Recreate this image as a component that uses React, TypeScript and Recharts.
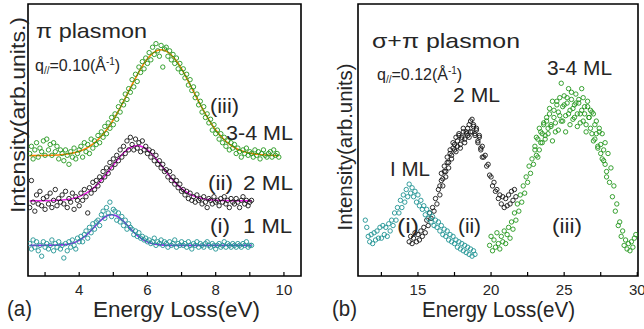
import React from 'react';
import { ComposedChart, Scatter, Line, XAxis, YAxis, ReferenceArea } from 'recharts';

// intensity is in arbitrary units, shared by both panels
const Y_MAX = 151;
const Y_TICKS = [5, 15, 25, 35, 45, 55, 65, 75, 85, 95, 105, 115, 125, 135, 145];

const X_TICKS_A = [3, 4, 5, 6, 7, 8, 9, 10];
const X_LABELS_A = [4, 6, 8, 10];
const X_TICKS_B = [12.5, 15, 17.5, 20, 22.5, 25, 27.5, 30];
const X_LABELS_B = [15, 20, 25, 30];

// (a) pi plasmon, energy grid (eV)
const ENERGY_A = [
  2.55, 2.6, 2.65, 2.7, 2.75, 2.8, 2.85, 2.9, 2.95, 3.0,
  3.05, 3.1, 3.15, 3.2, 3.25, 3.3, 3.35, 3.4, 3.45, 3.5,
  3.55, 3.6, 3.65, 3.7, 3.75, 3.8, 3.85, 3.9, 3.95, 4.0,
  4.05, 4.1, 4.15, 4.2, 4.25, 4.3, 4.35, 4.4, 4.45, 4.5,
  4.55, 4.6, 4.65, 4.7, 4.75, 4.8, 4.85, 4.9, 4.95, 5.0,
  5.05, 5.1, 5.15, 5.2, 5.25, 5.3, 5.35, 5.4, 5.45, 5.5,
  5.55, 5.6, 5.65, 5.7, 5.75, 5.8, 5.85, 5.9, 5.95, 6.0,
  6.05, 6.1, 6.15, 6.2, 6.25, 6.3, 6.35, 6.4, 6.45, 6.5,
  6.55, 6.6, 6.65, 6.7, 6.75, 6.8, 6.85, 6.9, 6.95, 7.0,
  7.05, 7.1, 7.15, 7.2, 7.25, 7.3, 7.35, 7.4, 7.45, 7.5,
  7.55, 7.6, 7.65, 7.7, 7.75, 7.8, 7.85, 7.9, 7.95, 8.0,
  8.05, 8.1, 8.15, 8.2, 8.25, 8.3, 8.35, 8.4, 8.45, 8.5,
  8.55, 8.6, 8.65, 8.7, 8.75, 8.8, 8.85, 8.9, 8.95, 9.0,
  9.05, 9.1, 9.15, 9.2, 9.25, 9.3, 9.35, 9.4, 9.45, 9.5,
  9.55, 9.6, 9.65, 9.7, 9.75, 9.8, 9.85,
];

const A_1ML = [
  18, 15, 20, 16, 19, 14, 17, 11, 19, 16,
  18, 15, 17, 20, 14, 18, 16, 19, 15, 17,
  10, 18, 14, 19, 16, 20, 17, 15, 21, 19,
  22, 19, 23, 25, 21, 27, 24, 29, 26, 30,
  31, 28, 34, 36, 32, 38, 35, 41, 33, 37,
  36, 31, 35, 30, 33, 28, 31, 26, 29, 27,
  26, 23, 25, 22, 24, 21, 22, 20, 21, 19,
  20, 18, 19, 21, 17, 19, 18, 20, 17, 19,
  18, 16, 19, 17, 18, 20, 16, 18, 17, 19,
  17, 18, 16, 19, 17, 15, 18, 17, 19, 16,
  18, 17, 16, 18, 19, 17, 16, 18, 17, 15,
  17, 18, 16, 17, 19, 16, 18, 17, 16, 18,
  17, 16, 18, 17, 16, 18, 17, 19, 16, 17,
  17,
];

const A_2ML = [
  38, 53, 41, 36, 45, 40, 47, 39, 43, 37,
  44, 40, 46, 38, 42, 48, 39, 43, 41, 45,
  40, 47, 38, 43, 41, 46, 37, 44, 42, 39,
  46, 42, 48, 44, 35, 49, 46, 52, 48, 53,
  50, 55, 53, 58, 55, 60, 57, 63, 60, 65,
  62, 67, 64, 70, 66, 72, 68, 75, 70, 77,
  73, 70, 76, 71, 74, 69, 75, 70, 72, 68,
  70, 66, 69, 64, 67, 62, 64, 60, 62, 58,
  59, 55, 58, 53, 55, 51, 53, 49, 51, 47,
  48, 45, 47, 43, 46, 42, 44, 41, 45, 42,
  43, 40, 44, 41, 38, 43, 42, 40, 44, 41,
  42, 39, 43, 41, 44, 40, 42, 38, 43, 41,
  40, 43, 41, 38, 42, 44, 40, 42, 39, 41,
  42,
];

const A_34ML = [
  68, 72, 65, 70, 74, 66, 71, 69, 75, 67,
  76, 70, 73, 67, 74, 69, 72, 65, 70, 68,
  64, 70, 67, 62, 69, 66, 71, 65, 68, 70,
  72, 66, 74, 69, 73, 68, 76, 71, 75, 73,
  78, 74, 80, 77, 83, 79, 85, 82, 88, 84,
  90, 87, 94, 91, 97, 95, 101, 98, 104, 102,
  109, 105, 112, 108, 116, 113, 119, 115, 121, 118,
  124, 120, 127, 123, 129, 125, 122, 128, 116, 126,
  127, 122, 125, 120, 123, 118, 121, 115, 118, 113,
  115, 110, 112, 106, 109, 103, 105, 99, 101, 95,
  97, 91, 94, 88, 90, 85, 87, 81, 84, 79,
  81, 76, 79, 74, 77, 72, 75, 70, 74, 71,
  73, 68, 71, 69, 66, 70, 68, 71, 67, 69,
  68, 66, 70, 67, 69, 65, 68, 70, 67, 66,
  68, 69, 66, 70, 67, 68, 66,
];

// fitted curves for (a)
const FIT_1ML_E = [2.55, 3.5, 3.8, 4.0, 4.2, 4.4, 4.6, 4.8, 4.95, 5.1, 5.3, 5.5, 5.7, 5.9, 6.1, 6.4, 6.8, 9.05];
const FIT_1ML_V = [17, 17.3, 18.2, 19.8, 22.5, 26.3, 30.3, 33.3, 34, 33.3, 30.3, 26.3, 22.5, 19.8, 18.2, 17.3, 17, 17];
const FIT_2ML_E = [2.55, 3.3, 3.7, 3.9, 4.1, 4.3, 4.5, 4.7, 4.9, 5.1, 5.3, 5.5, 5.7, 5.9, 6.1, 6.3, 6.5, 6.7, 6.9, 7.1, 7.3, 7.7, 8.1, 9.05];
const FIT_2ML_V = [41.7, 41.9, 42.6, 43.4, 44.9, 47.1, 50.2, 54.3, 59.1, 64, 68.3, 71.3, 72.4, 71.3, 68.3, 64, 59.1, 54.3, 50.2, 47.1, 44.9, 42.6, 41.9, 41.7];
const FIT_34ML_E = [2.55, 3.2, 3.6, 3.8, 4.0, 4.2, 4.4, 4.6, 4.8, 5.0, 5.2, 5.4, 5.6, 5.8, 6.0, 6.2, 6.4, 6.6, 6.8, 7.0, 7.2, 7.4, 7.6, 7.8, 8.0, 8.2, 8.4, 8.6, 8.8, 9.0, 9.2, 9.6, 9.85];
const FIT_34ML_V = [66.8, 67, 67.6, 68.2, 69.2, 70.8, 73.2, 76.6, 81, 86.7, 93.3, 100.6, 108, 115, 120.6, 124.3, 125.6, 124.3, 120.6, 115, 108, 100.6, 93.3, 86.7, 81, 76.6, 73.2, 70.8, 69.2, 68.2, 67.6, 67, 66.8];

// (b) sigma+pi plasmon, energy grid (eV)
const ENERGY_B = [
  11.4, 11.5, 11.6, 11.7, 11.8, 11.9, 12.0, 12.1, 12.2, 12.3,
  12.4, 12.5, 12.6, 12.7, 12.8, 12.9, 13.0, 13.1, 13.2, 13.3,
  13.4, 13.5, 13.6, 13.7, 13.8, 13.9, 14.0, 14.1, 14.2, 14.3,
  14.4, 14.5, 14.6, 14.7, 14.8, 14.9, 15.0, 15.1, 15.2, 15.3,
  15.4, 15.5, 15.6, 15.7, 15.8, 15.9, 16.0, 16.1, 16.2, 16.3,
  16.4, 16.5, 16.6, 16.7, 16.8, 16.9, 17.0, 17.1, 17.2, 17.3,
  17.4, 17.5, 17.6, 17.7, 17.8, 17.9, 18.0, 18.1, 18.2, 18.3,
  18.4, 18.5, 18.6, 18.7, 18.8, 18.9, 19.0, 19.1, 19.2, 19.3,
  19.4, 19.5, 19.6, 19.7, 19.8, 19.9, 20.0, 20.1, 20.2, 20.3,
  20.4, 20.5, 20.6, 20.7, 20.8, 20.9, 21.0, 21.1, 21.2, 21.3,
  21.4, 21.5, 21.6, 21.7, 21.8, 21.9, 22.0, 22.1, 22.2, 22.3,
  22.4, 22.5, 22.6, 22.7, 22.8, 22.9, 23.0, 23.1, 23.2, 23.3,
  23.4, 23.5, 23.6, 23.7, 23.8, 23.9, 24.0, 24.1, 24.2, 24.3,
  24.4, 24.5, 24.6, 24.7, 24.8, 24.9, 25.0, 25.1, 25.2, 25.3,
  25.4, 25.5, 25.6, 25.7, 25.8, 25.9, 26.0, 26.1, 26.2, 26.3,
  26.4, 26.5, 26.6, 26.7, 26.8, 26.9, 27.0, 27.1, 27.2, 27.3,
  27.4, 27.5, 27.6, 27.7, 27.8, 27.9, 28.0, 28.1, 28.2, 28.3,
  28.4, 28.5, 28.6, 28.7, 28.8, 28.9, 29.0, 29.1, 29.2, 29.3,
  29.4, 29.5, 29.6, 29.7, 29.8, 29.9,
];

const B_1ML_START = 0; // 11.4 eV
const B_1ML = [
  31, 27, 22, 19, 23, 18, 24, 20, 25, 21,
  27, 21, 28, 23, 27, 22, 29, 25, 31, 28,
  35, 31, 38, 35, 42, 38, 45, 41, 48, 44,
  51, 46, 49, 44, 47, 41, 45, 39, 42, 37,
  39, 34, 37, 32, 35, 30, 33, 28, 31, 27,
  30, 25, 28, 23, 26, 22, 25, 20, 23, 19,
  22, 18, 20, 16, 19, 15, 18, 14, 17, 13,
  16, 12, 15, 11, 14, 12,
];

const B_2ML_START = 30; // 14.4 eV
const B_2ML = [
  19, 22, 18, 21, 24, 19, 23, 20, 25, 22,
  27, 24, 31, 28, 35, 32, 38, 36, 43, 40,
  48, 45, 53, 50, 58, 55, 63, 60, 68, 65,
  74, 70, 77, 72, 78, 73, 76, 80, 74, 79,
  82, 77, 86, 80, 84, 79, 81, 75, 77, 71,
  72, 66, 67, 61, 62, 56, 55, 50, 52, 47,
  48, 43, 45, 40, 44, 38, 43, 39, 45, 40,
  47, 42, 48, 44,
];
// second reading of the 2 ML band, 16.5 - 19.4 eV
const B_2ML_EXTRA_START = 51;
const B_2ML_EXTRA = [
  50, 57, 54, 61, 58, 66, 63, 70, 67, 71,
  73, 69, 75, 79, 71, 77, 82, 76, 80, 78,
  84, 80, 87, 83, 78, 82, 74, 78, 70, 66,
];

const B_34ML_START = 85; // 19.9 eV
const B_34ML = [
  17, 22, 14, 20, 16, 24, 18, 15, 22, 19,
  25, 18, 23, 27, 21, 30, 26, 35, 31, 40,
  36, 45, 41, 50, 46, 55, 52, 61, 57, 65,
  62, 72, 67, 76, 70, 80, 74, 84, 78, 86,
  79, 90, 83, 75, 92, 85, 97, 81, 89, 107,
  86, 95, 80, 99, 90, 84, 102, 93, 88, 96,
  83, 98, 90, 104, 86, 94, 80, 97, 88, 92,
  79, 90, 76, 86, 72, 82, 68, 79, 64, 74,
  58, 68, 52, 60, 44, 50, 36, 40, 28, 30,
  22, 25, 17, 20, 15, 18, 14, 19, 16, 21,
  23,
];
// second reading of the 3-4 ML band, 23.0 - 27.9 eV
const B_34ML_EXTRA_START = 116;
const B_34ML_EXTRA = [
  70, 77, 66, 82, 74, 79, 85, 76, 88, 82,
  93, 84, 97, 88, 80, 95, 91, 99, 86, 94,
  100, 89, 96, 104, 92, 98, 87, 95, 101, 90,
  96, 85, 92, 99, 90, 84, 94, 88, 82, 91,
  75, 84, 79, 71, 80, 73, 65, 70, 62, 55,
];

const TEAL = '#1f9393';
const BLACK = '#151515';
const GREEN = '#22961c';
const FONT = "'Liberation Sans', Arial, sans-serif";
const INK = '#262626';

const toPoints = (energy: number[], start: number, values: number[]) =>
  values.map((v, i) => ({ e: energy[start + i], v }));
const toFit = (energy: number[], values: number[]) => values.map((v, i) => ({ e: energy[i], v }));

const ring = (color: string) => (p: any) =>
  <circle cx={p.cx} cy={p.cy} r={2.2} fill="none" stroke={color} strokeWidth={0.9} />;

const BottomTick = (props: any) => {
  const { x, y, payload, labels } = props;
  return (
    <g>
      <line x1={x} y1={y} x2={x} y2={y - 4} stroke="#000" strokeWidth={1.2} />
      {labels.includes(payload.value) && (
        <text x={x} y={y + 19} textAnchor="middle" fontSize={15} fill={INK} fontFamily={FONT}>
          {payload.value}
        </text>
      )}
    </g>
  );
};

interface PanelProps {
  domain: [number, number];
  xTicks: number[];
  xLabels: number[];
  margin: { top: number; right: number; bottom: number; left: number };
  series: { data: { e: number; v: number }[]; color: string }[];
  fits: { data: { e: number; v: number }[]; color: string }[];
  rightTicks: boolean;
}

const Panel = ({ domain, xTicks, xLabels, margin, series, fits, rightTicks }: PanelProps) => (
  <ComposedChart width={322} height={329} margin={margin}>
    <XAxis
      type="number"
      dataKey="e"
      domain={domain}
      ticks={xTicks}
      interval={0}
      allowDataOverflow
      height={30}
      tickSize={0}
      tickMargin={0}
      axisLine={false}
      tickLine={false}
      tick={<BottomTick labels={xLabels} />}
    />
    <YAxis
      type="number"
      domain={[0, Y_MAX]}
      ticks={Y_TICKS}
      interval={0}
      allowDataOverflow
      mirror
      tickSize={4}
      tick={false}
      axisLine={false}
      tickLine={{ stroke: '#000', strokeWidth: 1.2 }}
    />
    {rightTicks && (
      <YAxis
        yAxisId="r"
        orientation="right"
        type="number"
        domain={[0, Y_MAX]}
        ticks={Y_TICKS}
        interval={0}
        mirror
        tickSize={4}
        tick={false}
        axisLine={false}
        tickLine={{ stroke: '#000', strokeWidth: 1.2 }}
      />
    )}
    {series.map((s, i) => (
      <Scatter key={`s${i}`} data={s.data} dataKey="v" shape={ring(s.color)} isAnimationActive={false} />
    ))}
    {fits.map((f, i) => (
      <Line
        key={`f${i}`}
        data={f.data}
        dataKey="v"
        type="monotone"
        stroke={f.color}
        strokeWidth={1.6}
        dot={false}
        activeDot={false}
        isAnimationActive={false}
      />
    ))}
    <ReferenceArea
      x1={domain[0]}
      x2={domain[1]}
      y1={0}
      y2={Y_MAX}
      fill="none"
      stroke="#000"
      strokeWidth={1.6}
      ifOverflow="visible"
    />
  </ComposedChart>
);

const T = ({ x, y, w, size = 21, children }: any) => (
  <text x={x} y={y} fontSize={size} fill={INK} fontFamily={FONT} textLength={w} lengthAdjust="spacingAndGlyphs">
    {children}
  </text>
);

const QLabel = ({ x, y, value }: { x: number; y: number; value: string }) => (
  <text x={x} y={y} fontSize={16} fill={INK} fontFamily={FONT}>
    q
    <tspan fontSize={10} dy={3}>//</tspan>
    <tspan dy={-3}>{`=${value}(Å`}</tspan>
    <tspan fontSize={10} dy={-6}>-1</tspan>
    <tspan dy={6}>)</tspan>
  </text>
);

export default function App() {
  const seriesA = [
    { data: toPoints(ENERGY_A, 0, A_1ML), color: TEAL },
    { data: toPoints(ENERGY_A, 0, A_2ML), color: BLACK },
    { data: toPoints(ENERGY_A, 0, A_34ML), color: GREEN },
  ];
  const fitsA = [
    { data: toFit(FIT_1ML_E, FIT_1ML_V), color: '#8b2fe6' },
    { data: toFit(FIT_2ML_E, FIT_2ML_V), color: '#ea1fe6' },
    { data: toFit(FIT_34ML_E, FIT_34ML_V), color: '#ff7f00' },
  ];
  const seriesB = [
    { data: toPoints(ENERGY_B, B_2ML_START, B_2ML), color: BLACK },
    { data: toPoints(ENERGY_B, B_2ML_EXTRA_START, B_2ML_EXTRA), color: BLACK },
    { data: toPoints(ENERGY_B, B_1ML_START, B_1ML), color: TEAL },
    { data: toPoints(ENERGY_B, B_34ML_START, B_34ML), color: GREEN },
    { data: toPoints(ENERGY_B, B_34ML_EXTRA_START, B_34ML_EXTRA), color: GREEN },
  ];

  return (
    <div style={{ position: 'absolute', left: 0, top: 0, width: 644, height: 329, background: '#fff', overflow: 'hidden' }}>
      <div style={{ position: 'absolute', left: 0, top: 0 }}>
        <Panel
          domain={[2.5, 10.5]}
          xTicks={X_TICKS_A}
          xLabels={X_LABELS_A}
          margin={{ top: 4, right: 21, bottom: 23, left: 28 }}
          series={seriesA}
          fits={fitsA}
          rightTicks
        />
      </div>
      <div style={{ position: 'absolute', left: 322, top: 0 }}>
        <Panel
          domain={[10.9, 30.05]}
          xTicks={X_TICKS_B}
          xLabels={X_LABELS_B}
          margin={{ top: 4, right: 6, bottom: 23, left: 36 }}
          series={seriesB}
          fits={[]}
          rightTicks={false}
        />
      </div>
      <svg width={644} height={329} style={{ position: 'absolute', left: 0, top: 0, pointerEvents: 'none' }}>
        {/* panel (a) */}
        <T x={36} y={38} w={111}>π plasmon</T>
        <QLabel x={35} y={71} value="0.10" />
        <T x={210} y={113} w={29}>(iii)</T>
        <T x={226} y={140} w={67}>3-4 ML</T>
        <T x={208} y={190} w={25}>(ii)</T>
        <T x={243} y={190} w={50}>2 ML</T>
        <T x={210} y={233} w={20}>(i)</T>
        <T x={243} y={233} w={49}>1 ML</T>
        <text
          x={0}
          y={0}
          transform="translate(25,115) rotate(-90)"
          textAnchor="middle"
          fontSize={21}
          fill={INK}
          fontFamily={FONT}
          textLength={196}
          lengthAdjust="spacingAndGlyphs"
        >
          Intensity(arb.units.)
        </text>
        <T x={93} y={317} w={167} size={22}>Energy Loss(eV)</T>
        <T x={7} y={316} w={25} size={22}>(a)</T>

        {/* panel (b) */}
        <T x={372} y={48} w={148}>σ+π plasmon</T>
        <QLabel x={377} y={80} value="0.12" />
        <T x={453} y={102} w={47}>2 ML</T>
        <T x={547} y={75} w={65}>3-4 ML</T>
        <T x={390} y={176} w={40}>I ML</T>
        <T x={397} y={233} w={22}>(i)</T>
        <T x={458} y={233} w={23}>(ii)</T>
        <T x={552} y={233} w={30}>(iii)</T>
        <text
          x={0}
          y={0}
          transform="translate(352,147) rotate(-90)"
          textAnchor="middle"
          fontSize={21}
          fill={INK}
          fontFamily={FONT}
          textLength={167}
          lengthAdjust="spacingAndGlyphs"
        >
          Intensity(arb.units)
        </text>
        <T x={422} y={317} w={153} size={22}>Energy Loss(eV)</T>
        <T x={332} y={316} w={25} size={22}>(b)</T>
      </svg>
    </div>
  );
}
